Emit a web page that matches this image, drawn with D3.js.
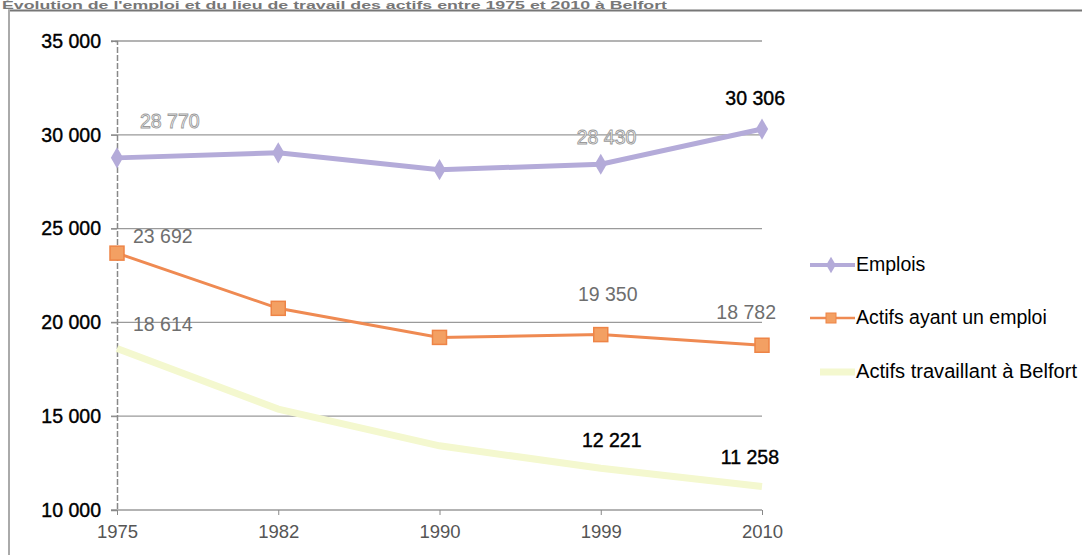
<!DOCTYPE html>
<html><head><meta charset="utf-8">
<script src="https://cdn.jsdelivr.net/npm/d3@7"></script>
<style>body{margin:0;background:#fff}svg{display:block;font-family:"Liberation Sans",Arial,sans-serif}</style>
</head><body><svg id="c" width="1082" height="555"></svg>
<script>
const years = [1975, 1982, 1990, 1999, 2010];
const emplois = [28770, 29040, 28140, 28430, 30306];
const actifsEmploi = [23692, 20750, 19200, 19350, 18782];
const actifsBelfort = [18614, 15380, 13420, 12221, 11258];
const yTicks = [10000, 15000, 20000, 25000, 30000, 35000];
const seriesNames = ["Emplois", "Actifs ayant un emploi", "Actifs travaillant à Belfort"];
const title = "Évolution de l'emploi et du lieu de travail des actifs entre 1975 et 2010 à Belfort";

const svg = d3.select("#c");
const x = d3.scalePoint().domain(years).range([117, 762]);
const y = d3.scaleLinear().domain([10000, 35000]).range([510, 41]);
const fmt = v => d3.format(",")(v).replace(/,/g, " ");

// title (small, above frame) and frame
svg.append("text").attr("x", 2).attr("y", 8.5).attr("font-size", 10.5).attr("font-weight", "bold")
  .attr("fill", "#777").attr("textLength", 665).attr("lengthAdjust", "spacingAndGlyphs").text(title);
svg.append("line").attr("x1", 8).attr("x2", 1082).attr("y1", 10.5).attr("y2", 10.5).attr("stroke", "#777").attr("stroke-width", 2);
svg.append("line").attr("x1", 9).attr("x2", 9).attr("y1", 10).attr("y2", 555).attr("stroke", "#aaa").attr("stroke-width", 2);

// gridlines
svg.append("g").selectAll("line").data(yTicks).join("line")
  .attr("x1", 111).attr("x2", 762).attr("y1", d => y(d)).attr("y2", d => y(d))
  .attr("stroke", "#9a9a9a").attr("stroke-width", 1.3);

// y axis
const ya = svg.append("g").attr("transform", "translate(117,0)").call(d3.axisLeft(y).tickValues(yTicks).tickFormat(fmt).tickSize(6).tickPadding(10));
ya.select(".domain").attr("stroke", "#888").attr("stroke-width", 1.5).attr("stroke-dasharray", "6,2");
ya.selectAll(".tick line").attr("stroke", "#888");
ya.selectAll("text").attr("font-size", 19.5).attr("fill", "#000").attr("stroke", "#000").attr("stroke-width", 0.4).attr("font-family", "Liberation Sans, Arial");

// x axis
const xa = svg.append("g").attr("transform", "translate(0,510)").call(d3.axisBottom(x).tickSize(5).tickPadding(10));
xa.select(".domain").remove();
xa.selectAll(".tick line").attr("stroke", "#888");
xa.selectAll("text").attr("font-size", 18.5).attr("fill", "#555").attr("font-family", "Liberation Sans, Arial");

const line = d3.line().x((d, i) => x(years[i])).y(d => y(d));

// Actifs travaillant à Belfort
svg.append("path").datum(actifsBelfort).attr("d", line).attr("fill", "none").attr("stroke", "#f4f8cf").attr("stroke-width", 7);

// Actifs ayant un emploi
svg.append("path").datum(actifsEmploi).attr("d", line).attr("fill", "none").attr("stroke", "#ef8a52").attr("stroke-width", 3);
svg.append("g").selectAll("rect").data(actifsEmploi).join("rect")
  .attr("x", (d, i) => x(years[i]) - 7).attr("y", d => y(d) - 7).attr("width", 14).attr("height", 14)
  .attr("fill", "#f3a063").attr("stroke", "#ee8446").attr("stroke-width", 1.5);

// Emplois
svg.append("path").datum(emplois).attr("d", line).attr("fill", "none").attr("stroke", "#b4abd9").attr("stroke-width", 5);
const diamond = d3.symbol().type(d3.symbolDiamond).size(130);
svg.append("g").selectAll("path").data(emplois).join("path")
  .attr("transform", (d, i) => `translate(${x(years[i])},${y(d)})`).attr("d", diamond).attr("fill", "#b4abd9");

// data labels
const labels = [
  {s: emplois, i: 0, dx: 23, dy: -30, style: "hollow", anchor: "start"},
  {s: emplois, i: 3, dx: -24, dy: -20, style: "hollow", anchor: "start"},
  {s: emplois, i: 4, dx: 23, dy: -24, style: "black", anchor: "end"},
  {s: actifsEmploi, i: 0, dx: 16, dy: 0, style: "gray", anchor: "start", ay: y(25000) + 14},
  {s: actifsEmploi, i: 3, dx: 7, dy: -34, style: "gray", anchor: "middle"},
  {s: actifsEmploi, i: 4, dx: 14, dy: -26, style: "gray", anchor: "end"},
  {s: actifsBelfort, i: 0, dx: 16, dy: 0, style: "gray", anchor: "start", ay: y(20000) + 9},
  {s: actifsBelfort, i: 3, dx: 11, dy: -21, style: "black", anchor: "middle"},
  {s: actifsBelfort, i: 4, dx: 17, dy: -22, style: "black", anchor: "end"}
];
const lg = svg.append("g");
labels.forEach(l => {
  const t = lg.append("text")
    .attr("x", x(years[l.i]) + l.dx)
    .attr("y", l.ay !== undefined ? l.ay : y(l.s[l.i]) + l.dy)
    .attr("text-anchor", l.anchor).attr("font-size", 19.5).text(fmt(l.s[l.i]));
  if (l.style === "hollow") t.attr("fill", "#fff").attr("stroke", "#9a9a9a").attr("stroke-width", 0.9);
  else if (l.style === "gray") t.attr("fill", "#6e6e6e");
  else t.attr("fill", "#000").attr("stroke", "#000").attr("stroke-width", 0.4);
});

// legend
const leg = svg.append("g");
const legY = [265, 318, 372];
seriesNames.forEach((n, k) => {
  const g = leg.append("g").attr("transform", `translate(0,${legY[k]})`);
  if (k === 0) {
    g.append("line").attr("x1", 810).attr("x2", 855).attr("stroke", "#b4abd9").attr("stroke-width", 4);
    g.append("path").attr("transform", "translate(831,0)").attr("d", d3.symbol().type(d3.symbolDiamond).size(80)).attr("fill", "#b4abd9");
  } else if (k === 1) {
    g.append("line").attr("x1", 810).attr("x2", 855).attr("stroke", "#ef8a52").attr("stroke-width", 2.5);
    g.append("rect").attr("x", 826).attr("y", -5).attr("width", 10).attr("height", 10).attr("fill", "#f3a063").attr("stroke", "#ee8446");
  } else {
    g.append("line").attr("x1", 820).attr("x2", 855).attr("stroke", "#f4f8cf").attr("stroke-width", 7);
  }
  g.append("text").attr("x", 856).attr("y", 6).attr("font-size", 19.5).attr("fill", "#000")
    .attr("textLength", k === 2 ? 221 : null).attr("lengthAdjust", "spacingAndGlyphs").text(n);
});
</script></body></html>
